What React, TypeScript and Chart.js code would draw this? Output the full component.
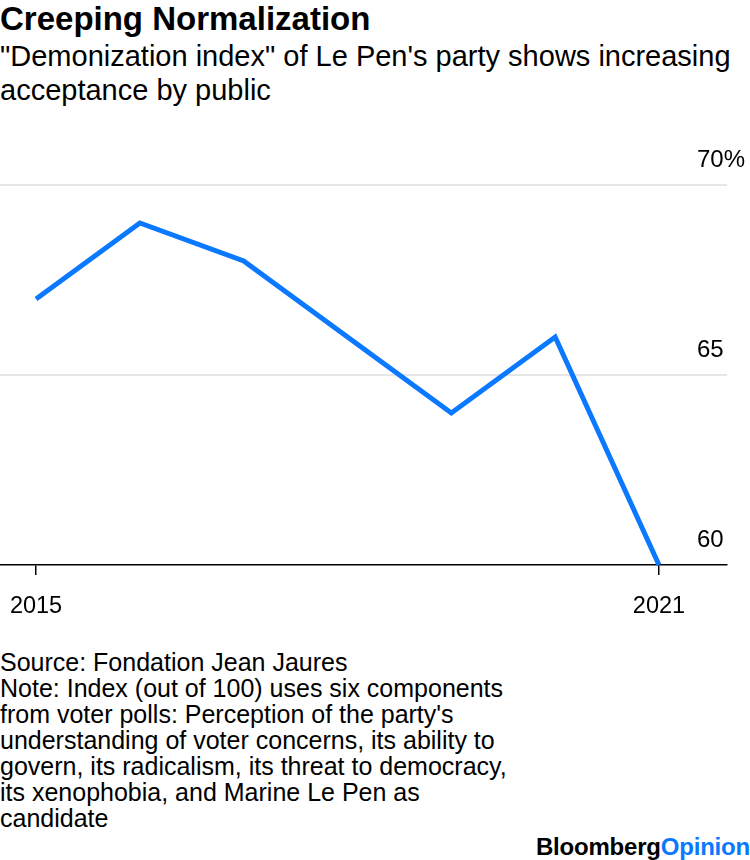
import React, { useEffect, useRef } from "react";
import { Chart, registerables } from "chart.js";

Chart.register(...registerables);

const years = [2015, 2016, 2017, 2018, 2019, 2020, 2021];
const indexValues = [67, 69, 68, 66, 64, 66, 60];
const xTickYears = [2015, 2021];
const yTickValues = [60, 65, 70];
const yTickLabels = ["60", "65", "70%"];

const BLUE = "#0a78ff";
const FONT = "'Liberation Sans', Arial, sans-serif";

const yLabelPlugin = {
  id: "yLabels",
  afterDraw(chart: any) {
    const { ctx, scales, chartArea } = chart;
    const y = scales.y;
    ctx.save();
    ctx.font = `24px ${FONT}`;
    ctx.fillStyle = "#000";
    ctx.textAlign = "left";
    ctx.textBaseline = "alphabetic";
    yTickValues.forEach((v, i) => {
      const py = y.getPixelForValue(v);
      ctx.fillText(yTickLabels[i], chartArea.right - 30, py - 18);
    });
    ctx.restore();
  },
};

export default function App() {
  const ref = useRef<HTMLCanvasElement>(null);
  useEffect(() => {
    document.body.style.margin = "0";
    const chart = new Chart(ref.current!, {
      type: "line",
      data: {
        datasets: [
          {
            data: years.map((yr, i) => ({ x: yr, y: indexValues[i] })),
            borderColor: BLUE,
            borderWidth: 5,
            pointRadius: 0,
            tension: 0,
            clip: false as any,
          },
        ],
      },
      options: {
        animation: false,
        responsive: false,
        maintainAspectRatio: false,
        layout: { padding: { top: 45, right: 23, left: 0, bottom: 0 } },
        plugins: { legend: { display: false }, tooltip: { enabled: false } },
        scales: {
          x: {
            type: "linear",
            min: 2014.653,
            max: 2021.655,
            afterBuildTicks: (s: any) => {
              s.ticks = xTickYears.map((v) => ({ value: v }));
            },
            afterFit: (s: any) => {
              s.height = 65;
              s.paddingLeft = 0;
              s.paddingRight = 0;
            },
            grid: {
              drawOnChartArea: false,
              drawTicks: true,
              tickLength: 10,
              color: "#000",
              lineWidth: 1.5,
            },
            border: { display: true, color: "#000", width: 1.5 },
            ticks: {
              color: "#000",
              font: { size: 23.5, family: FONT },
              padding: 17,
              maxRotation: 0,
              autoSkip: false,
              callback: (v: any) => String(v),
            },
          },
          y: {
            min: 60,
            max: 70,
            afterBuildTicks: (s: any) => {
              s.ticks = yTickValues.map((v) => ({ value: v }));
            },
            afterFit: (s: any) => {
              s.width = 0;
            },
            ticks: { display: false },
            border: { display: false },
            grid: {
              drawTicks: false,
              color: (c: any) => (c.tick && c.tick.value === 60 ? "rgba(0,0,0,0)" : "#e6e6e6"),
              lineWidth: 2,
            },
          },
        },
      },
      plugins: [yLabelPlugin],
    });
    return () => chart.destroy();
  }, []);

  return (
    <div style={{ position: "relative", width: 750, height: 860, background: "#fff", overflow: "hidden" }}>
      <div
        style={{
          position: "absolute",
          left: 0,
          top: 0,
          font: `bold 33px/38px ${FONT}`,
          color: "#000",
          whiteSpace: "nowrap",
        }}
      >
        Creeping Normalization
      </div>
      <div
        style={{
          position: "absolute",
          left: 0,
          top: 39,
          width: 750,
          font: `29px/34px ${FONT}`,
          color: "#000",
          whiteSpace: "nowrap",
        }}
      >
        "Demonization index" of Le Pen's party shows increasing
        <br />
        acceptance by public
      </div>
      <canvas
        ref={ref}
        width={750}
        height={490}
        style={{ position: "absolute", left: 0, top: 140, width: 750, height: 490 }}
      />
      <div
        style={{
          position: "absolute",
          left: 0,
          top: 649,
          width: 560,
          font: `25px/26px ${FONT}`,
          color: "#000",
          whiteSpace: "nowrap",
        }}
      >
        Source: Fondation Jean Jaures
        <br />
        Note: Index (out of 100) uses six components
        <br />
        from voter polls: Perception of the party's
        <br />
        understanding of voter concerns, its ability to
        <br />
        govern, its radicalism, its threat to democracy,
        <br />
        its xenophobia, and Marine Le Pen as
        <br />
        candidate
      </div>
      <div
        style={{
          position: "absolute",
          right: 0,
          top: 833,
          font: `bold 24px/28px ${FONT}`,
          letterSpacing: -0.2,
          whiteSpace: "nowrap",
        }}
      >
        <span style={{ color: "#000" }}>Bloomberg</span>
        <span style={{ color: BLUE }}>Opinion</span>
      </div>
    </div>
  );
}
